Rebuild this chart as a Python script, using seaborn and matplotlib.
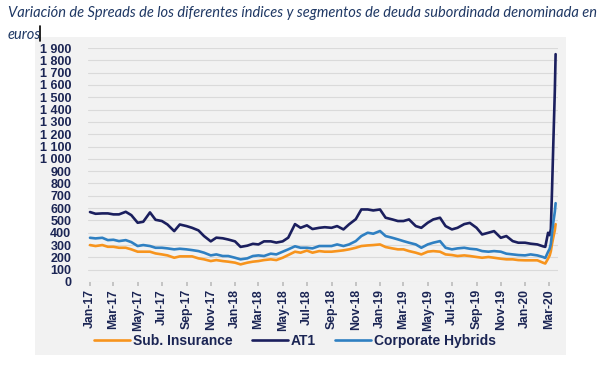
import pandas as pd
import matplotlib.pyplot as plt
import matplotlib.dates as mdates
from matplotlib.ticker import FuncFormatter, MultipleLocator
from matplotlib.patches import Rectangle
from matplotlib.lines import Line2D
import seaborn as sns

# semi-monthly readings (1st and 15th), Jan-17 .. Feb-20, then daily-ish points for the March 2020 spike
dates_regular = pd.date_range('2017-01-01', '2020-02-15', freq='SMS')
dates_spike = pd.to_datetime(['2020-02-21', '2020-02-28', '2020-03-03', '2020-03-06',
                              '2020-03-09', '2020-03-12', '2020-03-16', '2020-03-18'])

at1 = [568, 554, 557, 557, 549, 549, 570, 543, 481, 489,
       565, 505, 495, 467, 413, 467, 454, 440, 419, 373,
       330, 360, 355, 345, 330, 285, 295, 310, 305, 330,
       330, 320, 330, 360, 470, 440, 460, 430, 440, 445,
       440, 454, 427, 468, 510, 589, 589, 581, 589, 522,
       508, 495, 495, 508, 454, 440, 481, 508, 522, 454,
       427, 440, 470, 480, 440, 386, 400, 413, 359, 373,
       332, 319, 319, 311, 305, 290,
       285, 400, 380, 430, 750, 1100, 1550, 1850]

hybrids = [359, 354, 359, 340, 343, 332, 340, 324, 292, 300,
           292, 278, 278, 273, 265, 270, 265, 259, 251, 238,
           216, 224, 211, 211, 197, 184, 192, 211, 216, 211,
           230, 224, 246, 265, 290, 278, 278, 273, 292, 292,
           292, 305, 292, 305, 332, 373, 400, 392, 414, 373,
           359, 346, 332, 319, 305, 278, 305, 319, 332, 278,
           265, 273, 278, 270, 265, 251, 246, 251, 246, 230,
           224, 219, 216, 224, 216, 203,
           195, 245, 270, 310, 400, 480, 570, 640]

insurance = [300, 292, 300, 286, 286, 278, 278, 265, 246, 246,
             246, 232, 224, 216, 197, 208, 208, 208, 192, 184,
             170, 178, 170, 165, 157, 143, 157, 165, 170, 178,
             184, 178, 197, 219, 246, 238, 255, 238, 251, 246,
             246, 251, 257, 265, 278, 292, 297, 300, 305, 284,
             273, 265, 265, 251, 238, 224, 246, 251, 246, 224,
             219, 211, 216, 211, 203, 197, 203, 197, 189, 184,
             184, 178, 176, 176, 176, 157,
             150, 190, 215, 250, 310, 360, 420, 470]

series_names = ['Sub. Insurance', 'AT1', 'Corporate Hybrids']
series_colors = ['#F7941D', '#1B1F5E', '#2F80C2']
title = ('Variación de Spreads de los diferentes índices y segmentos de deuda subordinada denominada en\n'
         'euros')

dates = dates_regular.append(dates_spike)
df = pd.concat([
    pd.DataFrame({'date': dates, 'value': insurance, 'series': 'Sub. Insurance'}),
    pd.DataFrame({'date': dates, 'value': at1, 'series': 'AT1'}),
    pd.DataFrame({'date': dates, 'value': hybrids, 'series': 'Corporate Hybrids'}),
])

sns.set_theme(style="whitegrid")
plt.rcParams['font.family'] = ['Liberation Sans', 'DejaVu Sans']
navy = '#1B2554'

fig = plt.figure(figsize=(6.03, 3.73), dpi=100)
fig.patch.set_facecolor('white')
fig.patches.append(Rectangle((35 / 603, 18 / 373), 531 / 603, 318 / 373,
                             transform=fig.transFigure, facecolor='#F2F2F2',
                             edgecolor='none', zorder=-10))
ax = fig.add_axes([88 / 603, 91 / 373, 470 / 603, 234 / 373])
ax.set_facecolor('none')
ax.set_zorder(1)

sns.lineplot(data=df, x='date', y='value', hue='series', hue_order=series_names,
             palette=series_colors, linewidth=1.9, ax=ax)

ax.set_ylim(0, 1900)
ax.set_xlim(pd.Timestamp('2016-12-27'), pd.Timestamp('2020-03-24'))
ax.yaxis.set_major_locator(MultipleLocator(100))
ax.yaxis.set_major_formatter(FuncFormatter(lambda v, p: f"{int(v):,}".replace(',', ' ')))
ax.xaxis.set_major_locator(mdates.MonthLocator(bymonth=[1, 3, 5, 7, 9, 11]))
ax.xaxis.set_major_formatter(mdates.DateFormatter('%b-%y'))
ax.grid(axis='y', color='#DADADA', linewidth=0.8)
ax.grid(axis='x', visible=False)
for s in ax.spines.values():
    s.set_visible(False)
ax.tick_params(axis='y', length=0, labelsize=9, labelcolor=navy, pad=12)
ax.tick_params(axis='x', length=3, color='#BFBFBF', labelsize=8.8, labelcolor=navy,
               rotation=90, pad=2, bottom=True)
for lab in ax.get_xticklabels() + ax.get_yticklabels():
    lab.set_fontweight('bold')
ax.set_xlabel('')
ax.set_ylabel('')

sns.move_legend(ax, 'center', bbox_to_anchor=(0.44, -0.252), ncol=3,
                frameon=False, title=None, fontsize=10, handlelength=2.6,
                handletextpad=0.2, columnspacing=1.4)
for t in ax.get_legend().get_texts():
    t.set_color(navy)
    t.set_fontweight('bold')

fig.text(8 / 603, 1 - 6 / 373, title, ha='left', va='top', fontsize=10.5,
         style='italic', color='#1F3864', family=['Lato', 'DejaVu Sans'],
         linespacing=1.7)
# text cursor left after "euros" in the original screenshot
fig.add_artist(Line2D([40 / 603, 40 / 603], [1 - 26 / 373, 1 - 41 / 373],
                      transform=fig.transFigure, color='black', linewidth=1.2))

fig.savefig('out.png', dpi=100)
